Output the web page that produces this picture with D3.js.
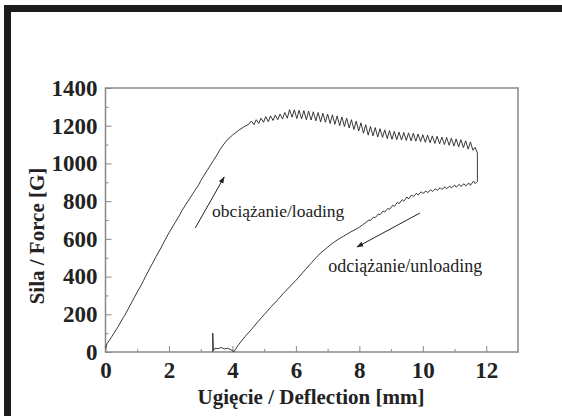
<!DOCTYPE html>
<html>
<head>
<meta charset="utf-8">
<script src="https://cdn.jsdelivr.net/npm/d3@7"></script>
<style>
  body { margin: 0; background: #fff; }
  text { font-family: 'Liberation Serif', 'Times New Roman', serif; fill: #222; }
</style>
</head>
<body>
<div id="chart"></div>
<script>
// loading curve: [deflection mm, force G]
let loading = [
    [0, 20], [0.05, 45], [0.2, 82], [0.4, 135], [0.55, 180], [0.6, 192], [0.8, 255], [1.0, 318],
    [1.15, 362], [1.2, 380], [1.4, 445], [1.6, 508], [1.75, 552], [1.8, 570], [2.0, 632],
    [2.2, 688], [2.35, 730], [2.4, 748], [2.6, 800], [2.8, 852], [2.95, 890], [3.0, 908],
    [3.2, 962], [3.4, 1015], [3.55, 1055], [3.6, 1072], [3.8, 1118], [4.0, 1150], [4.2, 1176],
    [4.4, 1198], [4.5, 1206],
    [4.60, 1225], [4.68, 1205], [4.75, 1232], [4.83, 1212], [4.90, 1240], [4.98, 1218],
    [5.05, 1248], [5.13, 1222], [5.20, 1252], [5.28, 1228], [5.35, 1256], [5.43, 1232],
    [5.50, 1262], [5.58, 1236], [5.65, 1270], [5.73, 1240], [5.80, 1285], [5.88, 1245],
    [5.95, 1284], [6.03, 1238], [6.10, 1282], [6.18, 1236], [6.25, 1280], [6.33, 1232],
    [6.40, 1278], [6.48, 1230], [6.55, 1274], [6.63, 1226], [6.70, 1270], [6.78, 1220],
    [6.85, 1266], [6.93, 1218], [7.00, 1262], [7.08, 1212], [7.15, 1258], [7.23, 1208],
    [7.30, 1252], [7.38, 1200], [7.45, 1246], [7.53, 1196], [7.60, 1240], [7.68, 1188],
    [7.75, 1232], [7.83, 1180], [7.90, 1224], [7.98, 1172], [8.05, 1215], [8.13, 1160],
    [8.20, 1205], [8.28, 1150], [8.35, 1196], [8.43, 1146], [8.50, 1190], [8.58, 1140],
    [8.65, 1184], [8.73, 1138], [8.80, 1178], [8.88, 1132], [8.95, 1174], [9.03, 1128],
    [9.10, 1170], [9.18, 1126], [9.25, 1166], [9.33, 1124], [9.40, 1164], [9.48, 1122],
    [9.55, 1162], [9.63, 1120], [9.70, 1160], [9.78, 1118], [9.85, 1156], [9.93, 1116],
    [10.00, 1152], [10.08, 1112], [10.15, 1150], [10.23, 1110], [10.30, 1146], [10.38, 1106],
    [10.45, 1144], [10.53, 1104], [10.60, 1140], [10.68, 1100], [10.75, 1138], [10.83, 1096],
    [10.90, 1134], [10.98, 1092], [11.05, 1130], [11.13, 1088], [11.20, 1126], [11.28, 1084],
    [11.35, 1120], [11.43, 1076], [11.50, 1114], [11.58, 1070], [11.65, 1085], [11.72, 1055]
]

// unloading curve, from the end of loading back to zero
let unloading = [
    [11.72, 1055], [11.72, 905], [11.65, 893], [11.6, 906], [11.5, 884], [11.45, 896],
    [11.35, 881], [11.3, 892], [11.2, 878], [11.15, 889], [11.05, 874], [11.0, 885],
    [10.9, 870], [10.85, 880], [10.75, 866], [10.7, 876], [10.6, 862], [10.55, 871],
    [10.45, 857], [10.4, 866], [10.3, 851], [10.25, 860], [10.15, 845], [10.1, 854],
    [10.0, 840], [9.95, 850], [9.85, 832], [9.8, 842], [9.7, 824], [9.65, 833],
    [9.55, 812], [9.5, 822], [9.4, 800], [9.35, 808], [9.25, 786], [9.2, 794],
    [9.1, 772], [9.05, 778], [8.95, 756], [8.9, 762], [8.8, 742], [8.75, 748],
    [8.65, 728], [8.6, 732], [8.5, 712], [8.45, 716], [8.35, 698], [8.3, 700],
    [8.2, 686], [8.1, 674], [8.0, 662], [7.9, 652], [7.8, 643], [7.7, 634], [7.6, 624],
    [7.5, 614], [7.4, 604], [7.3, 594], [7.2, 582], [7.1, 570], [7.0, 556], [6.9, 542],
    [6.8, 528], [6.7, 512], [6.6, 494], [6.5, 475], [6.4, 456], [6.3, 437], [6.2, 418],
    [6.1, 398], [6.0, 380], [5.8, 345], [5.6, 310], [5.4, 272], [5.2, 236], [5.0, 198],
    [4.8, 160], [4.6, 120], [4.4, 82], [4.2, 40], [4.1, 15], [4.05, 2], [3.95, 12],
    [3.85, 20], [3.75, 16], [3.65, 24], [3.55, 18], [3.45, 20], [3.4, 8], [3.38, 100],
    [3.38, 0]
]

let xTicks = [0, 2, 4, 6, 8, 10, 12]
let yTicks = [0, 200, 400, 600, 800, 1000, 1200, 1400]

// annotations: [x, y] in data units
let loadLabel = { text: 'obciążanie/loading', at: [3.36, 716] }
let unloadLabel = { text: 'odciążanie/unloading', at: [7.02, 424] }
let loadArrow = [[2.83, 658], [3.74, 928]]
let unloadArrow = [[9.91, 737], [7.93, 557]]

let svg = d3.select('#chart').append('svg')
    .attr('width', 562)
    .attr('height', 416)

// black frame (cropped on right and bottom)
svg.append('rect').attr('x', 4).attr('y', 5).attr('width', 560).attr('height', 7).attr('fill', '#1c1c1c')
svg.append('rect').attr('x', 4).attr('y', 5).attr('width', 7).attr('height', 412).attr('fill', '#1c1c1c')

let x = d3.scaleLinear()
    .domain([0, 13])
    .range([105.5, 518])

let y = d3.scaleLinear()
    .domain([0, 1400])
    .range([352, 88])

svg.append('defs').append('marker')
    .attr('id', 'head')
    .attr('viewBox', '0 0 10 10')
    .attr('refX', 9).attr('refY', 5)
    .attr('markerWidth', 7).attr('markerHeight', 7)
    .attr('orient', 'auto')
    .append('path')
    .attr('d', 'M0,1.5 L10,5 L0,8.5 Z')
    .attr('fill', '#222')

// frame
svg.append('rect')
    .attr('x', x(0)).attr('y', y(1400))
    .attr('width', x(13) - x(0)).attr('height', y(0) - y(1400))
    .attr('fill', 'none').attr('stroke', '#888').attr('stroke-width', 1.5)

// ticks, inward
let xAxis = svg.append('g')
    .attr('transform', 'translate(0,' + y(0) + ')')
    .call(d3.axisBottom(x).tickValues(xTicks).tickSize(-6).tickPadding(10).tickFormat(d3.format('d')))
svg.append('g')
    .attr('transform', 'translate(0,' + y(0) + ')')
    .call(d3.axisBottom(x).tickValues(d3.range(1, 13, 2)).tickSize(-3).tickFormat(''))
    .call(g => g.select('.domain').remove())
xAxis.select('.domain').remove()
xAxis.selectAll('text')
    .style('font-size', '23px').style('font-weight', 'bold').style('fill', '#222')

let yAxis = svg.append('g')
    .attr('transform', 'translate(' + x(0) + ',0)')
    .call(d3.axisLeft(y).tickValues(yTicks).tickSize(-6).tickPadding(8).tickFormat(d3.format('d')))
svg.append('g')
    .attr('transform', 'translate(' + x(0) + ',0)')
    .call(d3.axisLeft(y).tickValues(d3.range(100, 1400, 200)).tickSize(-3).tickFormat(''))
    .call(g => g.select('.domain').remove())
yAxis.select('.domain').remove()
yAxis.selectAll('text')
    .style('font-size', '23px').style('font-weight', 'bold').style('fill', '#222')
svg.selectAll('.tick line').attr('stroke', '#888')

// axis titles
svg.append('text')
    .attr('x', 311).attr('y', 404)
    .attr('text-anchor', 'middle')
    .style('font-size', '21px').style('font-weight', 'bold')
    .text('Ugięcie / Deflection [mm]')

svg.append('text')
    .attr('transform', 'translate(44,236) rotate(-90)')
    .attr('text-anchor', 'middle')
    .style('font-size', '21px').style('font-weight', 'bold')
    .text('Sila / Force [G]')

// curves
let line = d3.line()
    .x(function (d) { return x(d[0]) })
    .y(function (d) { return y(d[1]) })

svg.append('path').datum(loading)
    .attr('d', line).attr('fill', 'none').attr('stroke', '#222').attr('stroke-width', 0.9)
svg.append('path').datum(unloading)
    .attr('d', line).attr('fill', 'none').attr('stroke', '#222').attr('stroke-width', 0.9)

// arrows and labels
svg.append('path').datum(loadArrow)
    .attr('d', line).attr('stroke', '#222').attr('stroke-width', 1).attr('marker-end', 'url(#head)')
svg.append('path').datum(unloadArrow)
    .attr('d', line).attr('stroke', '#222').attr('stroke-width', 1).attr('marker-end', 'url(#head)')

svg.append('text')
    .attr('x', x(loadLabel.at[0])).attr('y', y(loadLabel.at[1]))
    .style('font-size', '17.5px')
    .text(loadLabel.text)
svg.append('text')
    .attr('x', x(unloadLabel.at[0])).attr('y', y(unloadLabel.at[1]))
    .style('font-size', '18px')
    .text(unloadLabel.text)
</script>
</body>
</html>
